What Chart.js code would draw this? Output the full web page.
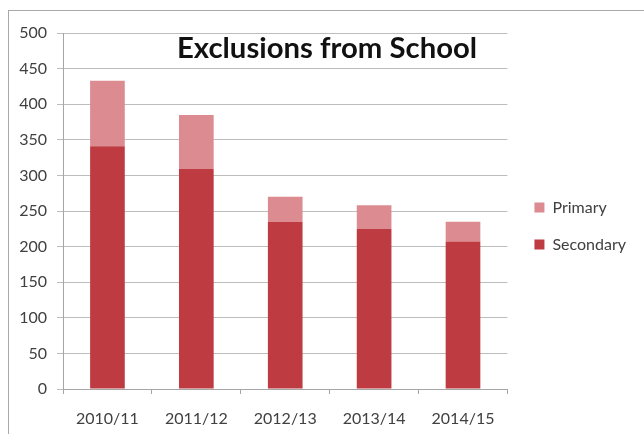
<!DOCTYPE html>
<html>
<head>
<meta charset="utf-8">
<script src="https://cdn.jsdelivr.net/npm/chart.js@4"></script>
<style>
  html, body { margin: 0; padding: 0; background: #fff; }
  #wrap { position: relative; width: 644px; height: 434px; overflow: hidden; }
  #frame { position: absolute; left: 8px; top: 10px; width: 720px; height: 520px; border: 1px solid #a8a8a8; box-sizing: border-box; }
  #c { position: absolute; left: 0; top: 0; }
  #title { position: absolute; left: 177px; top: 32px; font: bold 29px Lato, "Open Sans", sans-serif; line-height: 29px; color: #111; white-space: nowrap; transform-origin: 0 0; }
</style>
</head>
<body>
<div id="wrap">
  <div id="frame"></div>
  <canvas id="c" width="644" height="434"></canvas>
  <div id="title">Exclusions from School</div>
</div>
<script>
const categories = ["2010/11", "2011/12", "2012/13", "2013/14", "2014/15"];
const secondary = [341, 309, 235, 225, 207];
const primary = [92, 76, 35, 33, 28];
const seriesNames = ["Secondary", "Primary"];
const yTicks = [0, 50, 100, 150, 200, 250, 300, 350, 400, 450, 500];

const t = document.getElementById('title');
const w = t.offsetWidth;
t.style.transform = 'scaleX(' + (300 / w) + ')';

const font = { family: 'Lato, "Open Sans", sans-serif', size: 16 };
const textColor = '#404040';

const shiftLegend = {
  id: 'shiftLegend',
  afterLayout(chart) {
    const lg = chart.legend;
    if (lg) { lg.left += 6; lg.right += 6; }
  }
};

new Chart(document.getElementById('c'), {
  type: 'bar',
  data: {
    labels: categories,
    datasets: [
      { label: seriesNames[0], data: secondary, backgroundColor: '#be3b41', categoryPercentage: 1, barPercentage: 0.39 },
      { label: seriesNames[1], data: primary, backgroundColor: '#dc8b91', categoryPercentage: 1, barPercentage: 0.39 }
    ]
  },
  plugins: [shiftLegend],
  options: {
    responsive: false,
    animation: false,
    layout: { padding: { top: 33, left: 0, right: 14, bottom: 0 } },
    plugins: {
      title: { display: false },
      tooltip: { enabled: false },
      legend: {
        position: 'right',
        align: 'start',
        reverse: true,
        title: { display: true, text: '', font: { size: 12 }, padding: { top: 131, bottom: 0 } },
        labels: { boxWidth: 10, boxHeight: 10, padding: 21, font: font, color: textColor }
      }
    },
    scales: {
      x: {
        stacked: true,
        grid: { display: true, drawOnChartArea: false, drawTicks: true, tickLength: 5, offset: true, color: '#a6a6a6' },
        border: { display: true, color: '#a6a6a6' },
        ticks: { font: font, color: textColor, padding: 15, maxRotation: 0 },
        afterFit: s => { s.height = 45; }
      },
      y: {
        stacked: true,
        min: 0, max: 500,
        afterBuildTicks: s => { s.ticks = yTicks.map(v => ({ value: v })); },
        grid: { color: '#bdbdbd', tickLength: 6, drawTicks: true },
        border: { display: true, color: '#a6a6a6' },
        ticks: { font: font, color: textColor, padding: 10 },
        afterFit: s => { s.width = 63; }
      }
    }
  }
});
</script>
</body>
</html>
